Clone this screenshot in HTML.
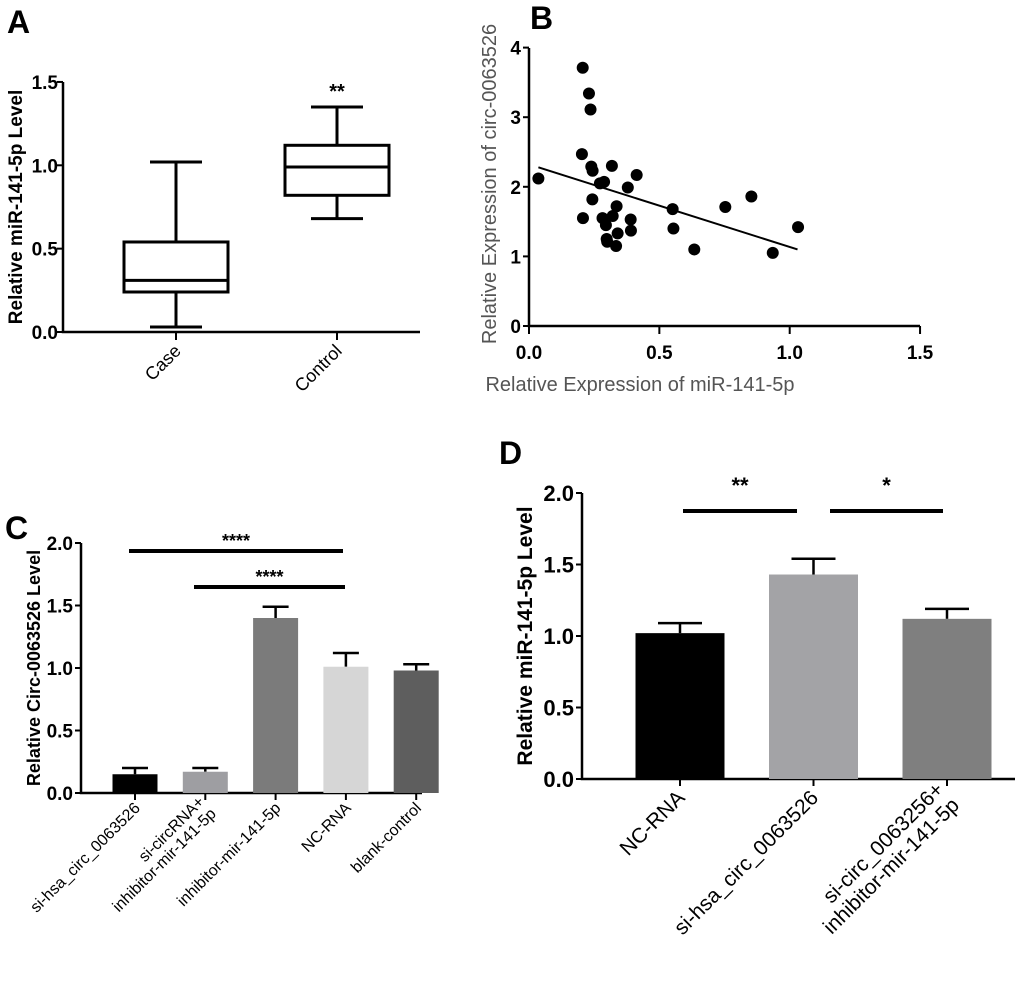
<!DOCTYPE html>
<html><head><meta charset="utf-8"><style>
body{margin:0;background:#fff}
svg{display:block;font-family:"Liberation Sans",Arial,sans-serif}
</style></head><body>
<svg id="fig" width="1020" height="984" viewBox="0 0 1020 984">
<text x="7" y="33" font-size="32" font-weight="bold">A</text>
<text x="530" y="29" font-size="32" font-weight="bold">B</text>
<text x="5" y="539" font-size="32" font-weight="bold">C</text>
<text x="499" y="464" font-size="32" font-weight="bold">D</text>
<g id="pa"></g>
<g id="pb"></g>
<g id="pc"></g>
<g id="pd"></g>
</svg>
<script>
// Panel A data
const aCategories = ["Case", "Control"];
const aMin = [0.03, 0.68];
const aQ1 = [0.24, 0.82];
const aMedian = [0.31, 0.99];
const aQ3 = [0.54, 1.12];
const aMax = [1.02, 1.35];
const aTicks = ["0.0", "0.5", "1.0", "1.5"];
// Panel B data
const bX = [0.036,0.206,0.23,0.236,0.203,0.239,0.244,0.318,0.413,0.272,0.288,0.379,0.243,0.207,0.282,0.336,0.321,0.295,0.298,0.30,0.34,0.334,0.39,0.391,0.551,0.554,0.634,0.753,0.853,0.935,1.032];
const bY = [2.12,3.71,3.34,3.11,2.47,2.29,2.23,2.30,2.17,2.05,2.07,1.99,1.82,1.55,1.55,1.72,1.58,1.45,1.25,1.21,1.33,1.15,1.53,1.37,1.68,1.40,1.10,1.71,1.86,1.05,1.42];
const bFitX = [0.036, 1.03];
const bFitY = [2.28, 1.10];
const bXTicks = ["0.0", "0.5", "1.0", "1.5"];
const bYTicks = ["0", "1", "2", "3", "4"];
// Panel C data
const cCategories = [["si-hsa_circ_0063526"], ["si-circRNA+", "inhibitor-mir-141-5p"], ["inhibitor-mir-141-5p"], ["NC-RNA"], ["blank-control"]];
const cValues = [0.15, 0.17, 1.40, 1.01, 0.98];
const cErrors = [0.05, 0.03, 0.09, 0.11, 0.05];
const cColors = ["#000000", "#9e9ea2", "#7b7b7b", "#d6d6d6", "#5e5e5e"];
const cTicks = ["0.0", "0.5", "1.0", "1.5", "2.0"];
// Panel D data
const dCategories = [["NC-RNA"], ["si-hsa_circ_0063526"], ["si-circ_0063256+", "inhibitor-mir-141-5p"]];
const dValues = [1.02, 1.43, 1.12];
const dErrors = [0.07, 0.11, 0.07];
const dColors = ["#000000", "#a3a3a6", "#7f7f7f"];
const dTicks = ["0.0", "0.5", "1.0", "1.5", "2.0"];

const NS = "http://www.w3.org/2000/svg";
function mk(parent, tag, attrs, txt){
  const e = document.createElementNS(NS, tag);
  for (const k in attrs) e.setAttribute(k, attrs[k]);
  if (txt !== undefined) e.textContent = txt;
  parent.appendChild(e);
  return e;
}

// ---------- Panel A ----------
(function(){
  const g = document.getElementById('pa');
  const y = v => 332 - v * 166.7;
  const xs = [176, 337];
  const ax = mk(g, 'path', {d: 'M63 82 V332 H420', stroke: '#000', 'stroke-width': 2.5, fill: 'none'});
  
  
  aTicks.forEach(t => {
    const yy = y(parseFloat(t));
    mk(g, 'line', {x1: 57, x2: 63, y1: yy, y2: yy, stroke: '#000', 'stroke-width': 2});
    const tl = mk(g, 'text', {x: 58, y: yy + 7, 'text-anchor': 'end', 'font-size': 19, 'font-weight': 'bold'}, t);
    
    
  });
  const yt = mk(g, 'text', {transform: 'translate(22,207) rotate(-90)', 'text-anchor': 'middle', 'font-size': 19, 'font-weight': 'bold'}, 'Relative miR-141-5p Level');
  
  
  aCategories.forEach((c, i) => {
    const x = xs[i];
    mk(g, 'line', {x1: x, x2: x, y1: 332, y2: 340, stroke: '#000', 'stroke-width': 2});
    const bx = mk(g, 'g', {});
    
    
    const s = {stroke: '#000', 'stroke-width': 3, fill: 'none'};
    mk(bx, 'line', Object.assign({x1: x, x2: x, y1: y(aMax[i]), y2: y(aQ3[i])}, s));
    mk(bx, 'line', Object.assign({x1: x, x2: x, y1: y(aQ1[i]), y2: y(aMin[i])}, s));
    mk(bx, 'line', Object.assign({x1: x - 26, x2: x + 26, y1: y(aMax[i]), y2: y(aMax[i])}, s));
    mk(bx, 'line', Object.assign({x1: x - 26, x2: x + 26, y1: y(aMin[i]), y2: y(aMin[i])}, s));
    mk(bx, 'rect', Object.assign({x: x - 52, width: 104, y: y(aQ3[i]), height: y(aQ1[i]) - y(aQ3[i])}, s));
    mk(bx, 'line', Object.assign({x1: x - 52, x2: x + 52, y1: y(aMedian[i]), y2: y(aMedian[i])}, s));
    const xl = mk(g, 'text', {transform: `translate(${x + 6},${352}) rotate(-45)`, 'text-anchor': 'end', 'font-size': 18}, c);
    
    
  });
  const st = mk(g, 'text', {x: 337, y: 98, 'text-anchor': 'middle', 'font-size': 20, 'font-weight': 'bold'}, '**');
  
  
})();

// ---------- Panel B ----------
(function(){
  const g = document.getElementById('pb');
  const x = v => 529 + v * 260.7;
  const y = v => 326 - v * 69.6;
  const ax = mk(g, 'path', {d: 'M529 48 V326 H920', stroke: '#000', 'stroke-width': 2.5, fill: 'none'});
  
  
  bYTicks.forEach(t => {
    const yy = y(parseFloat(t));
    mk(g, 'line', {x1: 523, x2: 529, y1: yy, y2: yy, stroke: '#000', 'stroke-width': 2});
    const tl = mk(g, 'text', {x: 521, y: yy + 7, 'text-anchor': 'end', 'font-size': 19, 'font-weight': 'bold'}, t);
    
    
  });
  bXTicks.forEach(t => {
    const xx = x(parseFloat(t));
    mk(g, 'line', {x1: xx, x2: xx, y1: 326, y2: 334, stroke: '#000', 'stroke-width': 2});
    const tl = mk(g, 'text', {x: xx, y: 359, 'text-anchor': 'middle', 'font-size': 19, 'font-weight': 'bold'}, t);
    
    
  });
  const yt = mk(g, 'text', {transform: 'translate(496,184) rotate(-90)', 'text-anchor': 'middle', 'font-size': 20, fill: '#555'}, 'Relative Expression of circ-0063526');
  
  
  const xt = mk(g, 'text', {x: 640, y: 391, 'text-anchor': 'middle', 'font-size': 20, fill: '#555'}, 'Relative Expression of miR-141-5p');
  
  
  const fl = mk(g, 'line', {x1: x(bFitX[0]), y1: y(bFitY[0]), x2: x(bFitX[1]), y2: y(bFitY[1]), stroke: '#000', 'stroke-width': 2});
  
  
  bX.forEach((v, i) => {
    const c = mk(g, 'circle', {cx: x(v), cy: y(bY[i]), r: 6, fill: '#000'});
    
    
  });
})();

// ---------- Bar panels ----------
function barPanel(gid, p, cats, vals, errs, cols, ticks, title, prefix){
  const g = document.getElementById(gid);
  const y = v => p.y0 - v * p.k;
  const ax = mk(g, 'path', {d: `M${p.x0} ${y(2)} V${p.y0} H${p.x1}`, stroke: '#000', 'stroke-width': 2.5, fill: 'none'});
  
  
  ticks.forEach(t => {
    const yy = y(parseFloat(t));
    mk(g, 'line', {x1: p.x0 - 6, x2: p.x0, y1: yy, y2: yy, stroke: '#000', 'stroke-width': 2});
    const tl = mk(g, 'text', {x: p.x0 - 8, y: yy + p.tfs * 0.36, 'text-anchor': 'end', 'font-size': p.tfs, 'font-weight': 'bold'}, t);
    
    
  });
  const yt = mk(g, 'text', {transform: `translate(${p.tx},${p.ty}) rotate(-90)`, 'text-anchor': 'middle', 'font-size': p.yfs, 'font-weight': 'bold'}, title);
  
  
  vals.forEach((v, i) => {
    const cx = p.c0 + i * p.step;
    const eb = mk(g, 'path', {d: `M${cx} ${y(v)} V${y(v + errs[i])} M${cx - p.cap} ${y(v + errs[i])} H${cx + p.cap}`, stroke: '#000', 'stroke-width': 2.5, fill: 'none'});
    
    
    const r = mk(g, 'rect', {x: cx - p.bw / 2, width: p.bw, y: y(v), height: y(0) - y(v), fill: cols[i]});
    
    
    mk(g, 'line', {x1: cx, x2: cx, y1: p.y0, y2: p.y0 + 7, stroke: '#000', 'stroke-width': 2});
    const lt = mk(g, 'text', {transform: `translate(${cx + 6},${p.y0 + p.ly}) rotate(-45)`, 'text-anchor': 'end', 'font-size': p.lfs});
    
    
    const lines = cats[i];
    lines.forEach((s, j) => {
      mk(lt, 'tspan', {x: 0, y: (j - (lines.length - 1)) * p.lfs * 1.05 + (lines.length > 1 ? p.lfs * 0.5 : 0)}, s);
    });
  });
}
barPanel('pc', {x0: 81, x1: 422, y0: 793, k: 125, c0: 135, step: 70.3, bw: 45, cap: 13, tx: 40, ty: 668, tfs: 19, yfs: 18, lfs: 16, ly: 16},
  cCategories, cValues, cErrors, cColors, cTicks, 'Relative Circ-0063526 Level', 'c');
barPanel('pd', {x0: 582, x1: 1015, y0: 779, k: 143, c0: 680, step: 133.5, bw: 89, cap: 22, tx: 532, ty: 636, tfs: 22, yfs: 21, lfs: 21, ly: 20},
  dCategories, dValues, dErrors, dColors, dTicks, 'Relative miR-141-5p Level', 'd');

// significance markers
(function(){
  const gc = document.getElementById('pc');
  const gd = document.getElementById('pd');
  const sig = [
    [gc, 129, 343, 551, '****', 18, 4],
    [gc, 194, 345, 587, '****', 18, 4],
    [gd, 683, 797, 511, '**', 22, 18],
    [gd, 830, 943, 511, '*', 22, 18]
  ];
  sig.forEach(s => {
    const l = mk(s[0], 'line', {x1: s[1], x2: s[2], y1: s[3], y2: s[3], stroke: '#000', 'stroke-width': 4});
    
    
    const t = mk(s[0], 'text', {x: (s[1] + s[2]) / 2, y: s[3] - s[6], 'text-anchor': 'middle', 'font-size': s[5], 'font-weight': 'bold'}, s[4]);
    
    
  });
})();
</script>
</body></html>
